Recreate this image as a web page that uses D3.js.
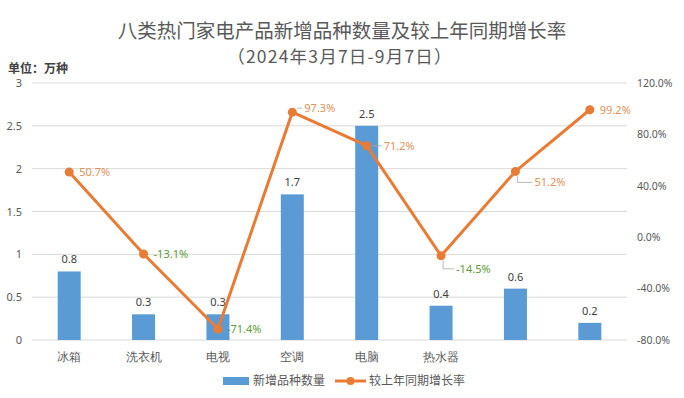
<!DOCTYPE html>
<html>
<head>
<meta charset="utf-8">
<script src="https://cdn.jsdelivr.net/npm/d3@7"></script>
<style>
  body { margin: 0; background: #fff; }
  svg { display: block; font-family: "Noto Sans CJK SC", "Noto Sans", sans-serif; }
</style>
</head>
<body>
<div id="chart"></div>
<script>
// categories (7th and 8th names are covered by a watermark in the source image)
const categories = ["冰箱", "洗衣机", "电视", "空调", "电脑", "热水器", "", ""];
const newItems = [0.8, 0.3, 0.3, 1.7, 2.5, 0.4, 0.6, 0.2];        // 万种
const growth = [50.7, -13.1, -71.4, 97.3, 71.2, -14.5, 51.2, 99.2]; // %
const leftTicks = [0, 0.5, 1, 1.5, 2, 2.5, 3];
const rightTicks = [-80, -40, 0, 40, 80, 120];

const width = 684, height = 398;
const margin = { top: 83, right: 57, bottom: 58, left: 32 };
const innerW = width - margin.left - margin.right;
const innerH = height - margin.top - margin.bottom;

const svg = d3.select("#chart").append("svg")
  .attr("width", width)
  .attr("height", height);

// titles
svg.append("text")
  .attr("x", 342).attr("y", 38)
  .attr("text-anchor", "middle")
  .attr("font-size", 19.5)
  .attr("fill", "#595959")
  .text("八类热门家电产品新增品种数量及较上年同期增长率");
svg.append("text")
  .attr("x", 340).attr("y", 63)
  .attr("text-anchor", "middle")
  .attr("font-size", 17.5)
  .attr("letter-spacing", 1.2)
  .attr("fill", "#595959")
  .text("（2024年3月7日-9月7日）");
svg.append("text")
  .attr("x", 8).attr("y", 73)
  .attr("font-size", 12)
  .attr("font-weight", "bold")
  .attr("fill", "#404040")
  .text("单位：万种");

const g = svg.append("g")
  .attr("transform", "translate(" + margin.left + "," + margin.top + ")");

const idx = d3.range(categories.length);
const x = d3.scaleBand().domain(idx).range([0, innerW]);
const yL = d3.scaleLinear().domain([0, 3]).range([innerH, 0]);
const yR = d3.scaleLinear().domain([-80, 120]).range([innerH, 0]);
const cx = i => x(i) + x.bandwidth() / 2;

// gridlines
g.append("g")
  .selectAll("line")
  .data(leftTicks)
  .join("line")
  .attr("x1", 0).attr("x2", innerW)
  .attr("y1", d => yL(d)).attr("y2", d => yL(d))
  .attr("stroke", "#d9d9d9")
  .attr("stroke-width", 1);

// left axis
const axL = g.append("g")
  .call(d3.axisLeft(yL).tickValues(leftTicks).tickSize(0).tickPadding(10).tickFormat(d3.format("")));
axL.select(".domain").remove();
axL.selectAll("text").attr("font-size", 11).attr("fill", "#595959").attr("font-family", "Noto Sans, sans-serif");

// right axis
const axR = g.append("g")
  .attr("transform", "translate(" + innerW + ",0)")
  .call(d3.axisRight(yR).tickValues(rightTicks).tickSize(0).tickPadding(10).tickFormat(d => d.toFixed(1) + "%"));
axR.select(".domain").remove();
axR.selectAll("text").attr("font-size", 10.5).attr("fill", "#595959").attr("font-family", "Noto Sans, sans-serif");

// category axis
const axX = g.append("g")
  .attr("transform", "translate(0," + innerH + ")")
  .call(d3.axisBottom(x).tickSize(0).tickPadding(12).tickFormat(i => categories[i]));
axX.select(".domain").remove();
axX.selectAll("text").attr("font-size", 12).attr("fill", "#595959");

// bars
const barW = 23;
g.append("g")
  .selectAll("rect")
  .data(newItems)
  .join("rect")
  .attr("x", (d, i) => cx(i) - barW / 2)
  .attr("y", d => yL(d))
  .attr("width", barW)
  .attr("height", d => innerH - yL(d))
  .attr("fill", "#5b9bd5");

// bar labels
g.append("g")
  .selectAll("text")
  .data(newItems)
  .join("text")
  .attr("x", (d, i) => cx(i))
  .attr("y", d => yL(d) - 8)
  .attr("text-anchor", "middle")
  .attr("font-size", 11)
  .attr("font-family", "Noto Sans, sans-serif")
  .attr("fill", "#404040")
  .text(d => d.toFixed(1));

// growth line
g.append("path")
  .datum(growth)
  .attr("fill", "none")
  .attr("stroke", "#e87c36")
  .attr("stroke-width", 3)
  .attr("stroke-linejoin", "round")
  .attr("d", d3.line().x((d, i) => cx(i)).y(d => yR(d)));

g.append("g")
  .selectAll("circle")
  .data(growth)
  .join("circle")
  .attr("cx", (d, i) => cx(i))
  .attr("cy", d => yR(d))
  .attr("r", 4.5)
  .attr("fill", "#e87c36");

// growth labels: offset from the point, some with a leader line
const labelOffsets = [[10, 0], [10, 0], [9, 0], [12, -4], [17, 0], [15, 13], [19, 11], [10, 0]];
const leader = [false, false, false, true, true, true, true, false];
const pts = growth.map((v, i) => ({ v, i, dx: labelOffsets[i][0], dy: labelOffsets[i][1], leader: leader[i] }));

g.append("g")
  .selectAll("path")
  .data(pts.filter(p => p.leader))
  .join("path")
  .attr("fill", "none")
  .attr("stroke", "#a6a6a6")
  .attr("stroke-width", 0.8)
  .attr("d", p => {
    const px = cx(p.i), py = yR(p.v);
    if (p.dy > 8) return "M" + (px + 2) + "," + (py + 5) + "L" + (px + 2) + "," + (py + p.dy) + "L" + (px + p.dx - 2) + "," + (py + p.dy);
    return "M" + (px + 5) + "," + (py + p.dy) + "L" + (px + p.dx - 2) + "," + (py + p.dy);
  });

g.append("g")
  .selectAll("text")
  .data(pts)
  .join("text")
  .attr("x", p => cx(p.i) + p.dx)
  .attr("y", p => yR(p.v) + p.dy)
  .attr("dy", "0.35em")
  .attr("font-size", 11)
  .attr("font-family", "Noto Sans, sans-serif")
  .attr("fill", p => p.v < 0 ? "#5f9a3c" : "#e0915a")
  .text(p => p.v.toFixed(1) + "%");

// legend
const lg = svg.append("g").attr("transform", "translate(0,381)");
lg.append("rect").attr("x", 223).attr("y", -4).attr("width", 26).attr("height", 8).attr("fill", "#5b9bd5");
lg.append("text").attr("x", 253).attr("y", 0).attr("dy", "0.35em")
  .attr("font-size", 12).attr("fill", "#595959").text("新增品种数量");
lg.append("line").attr("x1", 335).attr("x2", 366).attr("y1", 0).attr("y2", 0)
  .attr("stroke", "#e87c36").attr("stroke-width", 3);
lg.append("circle").attr("cx", 350.5).attr("cy", 0).attr("r", 4).attr("fill", "#e87c36");
lg.append("text").attr("x", 369).attr("y", 0).attr("dy", "0.35em")
  .attr("font-size", 12).attr("fill", "#595959").text("较上年同期增长率");
</script>
</body>
</html>
